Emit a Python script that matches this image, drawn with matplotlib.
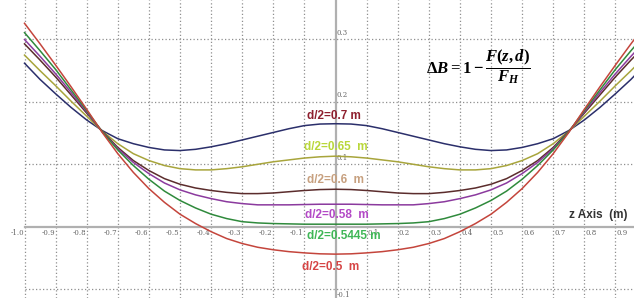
import matplotlib
matplotlib.use("Agg")
import matplotlib.pyplot as plt
import numpy as np

# ---- data ----
z = [-1.0, -0.95, -0.9, -0.85, -0.8, -0.75, -0.7, -0.65, -0.6, -0.55, -0.5,
     -0.45, -0.4, -0.35, -0.3, -0.25, -0.2, -0.15, -0.1, -0.05, 0.0,
     0.05, 0.1, 0.15, 0.2, 0.25, 0.3, 0.35, 0.4, 0.45, 0.5,
     0.55, 0.6, 0.65, 0.7, 0.75, 0.8, 0.85, 0.9, 0.95, 1.0]

d070 = [0.262, 0.236, 0.213, 0.191, 0.171, 0.154, 0.141, 0.133, 0.127, 0.123, 0.122,
        0.124, 0.128, 0.133, 0.139, 0.145, 0.151, 0.157, 0.162, 0.1645, 0.165,
        0.1645, 0.162, 0.157, 0.151, 0.145, 0.139, 0.133, 0.128, 0.124, 0.122,
        0.123, 0.127, 0.133, 0.141, 0.154, 0.171, 0.191, 0.213, 0.236, 0.262]

d065 = [0.275, 0.250, 0.226, 0.201, 0.177, 0.153, 0.133, 0.117, 0.106, 0.098, 0.093,
        0.091, 0.091, 0.093, 0.096, 0.100, 0.104, 0.107, 0.110, 0.112, 0.113,
        0.112, 0.110, 0.107, 0.104, 0.100, 0.096, 0.093, 0.091, 0.091, 0.093,
        0.098, 0.106, 0.117, 0.133, 0.153, 0.177, 0.201, 0.226, 0.250, 0.275]

d060 = [0.293, 0.267, 0.240, 0.211, 0.182, 0.153, 0.127, 0.106, 0.090, 0.077, 0.068,
        0.062, 0.058, 0.055, 0.053, 0.053, 0.054, 0.056, 0.058, 0.0595, 0.060,
        0.0595, 0.058, 0.056, 0.054, 0.053, 0.053, 0.055, 0.058, 0.062, 0.068,
        0.077, 0.090, 0.106, 0.127, 0.153, 0.182, 0.211, 0.240, 0.267, 0.293]

d058 = [0.300, 0.273, 0.245, 0.215, 0.184, 0.152, 0.125, 0.103, 0.085, 0.070, 0.059,
        0.051, 0.045, 0.040, 0.037, 0.035, 0.035, 0.035, 0.0355, 0.036, 0.036,
        0.036, 0.0355, 0.035, 0.035, 0.035, 0.037, 0.040, 0.045, 0.051, 0.059,
        0.070, 0.085, 0.103, 0.125, 0.152, 0.184, 0.215, 0.245, 0.273, 0.300]

d05445 = [0.311, 0.282, 0.252, 0.219, 0.186, 0.152, 0.123, 0.098, 0.076, 0.057, 0.042,
          0.030, 0.020, 0.013, 0.008, 0.006, 0.005, 0.0045, 0.004, 0.004, 0.004,
          0.004, 0.004, 0.0045, 0.005, 0.006, 0.008, 0.013, 0.020, 0.030, 0.042,
          0.057, 0.076, 0.098, 0.123, 0.152, 0.186, 0.219, 0.252, 0.282, 0.311]

d050 = [0.326, 0.293, 0.259, 0.224, 0.188, 0.151, 0.117, 0.087, 0.061, 0.039, 0.020,
        0.005, -0.008, -0.019, -0.027, -0.033, -0.037, -0.040, -0.042, -0.0435, -0.044,
        -0.0435, -0.042, -0.040, -0.037, -0.033, -0.027, -0.019, -0.008, 0.005, 0.020,
        0.039, 0.061, 0.087, 0.117, 0.151, 0.188, 0.224, 0.259, 0.293, 0.326]

series = [d070, d065, d060, d058, d05445, d050]
line_colors = ["#2b2f6b", "#a8a53c", "#5b2c2c", "#8b3a9e", "#2f8a3c", "#c4453c"]
labels = ["d/2=0.7 m", "d/2=0.65  m", "d/2=0.6  m", "d/2=0.58  m", "d/2=0.5445 m", "d/2=0.5  m"]
label_colors = ["#8e1f2e", "#b9d73a", "#c7a07f", "#b349c6", "#3fb656", "#d64545"]
label_pos = [(-0.005, 0.178), (0.0, 0.128), (0.0, 0.075), (0.003, 0.019), (0.027, -0.015), (-0.015, -0.065)]

xticks = [-1.0, -0.9, -0.8, -0.7, -0.6, -0.5, -0.4, -0.3, -0.2, -0.1,
          0.1, 0.2, 0.3, 0.4, 0.5, 0.6, 0.7, 0.8, 0.9]
yticks = [-0.1, 0.1, 0.2, 0.3]

plt.rcParams["mathtext.fontset"] = "custom"
plt.rcParams["mathtext.it"] = "Liberation Serif:italic:bold"
plt.rcParams["mathtext.rm"] = "Liberation Serif:bold"
plt.rcParams["mathtext.bf"] = "Liberation Serif:bold"

# ---- figure ----
fig = plt.figure(figsize=(6.34, 2.98), dpi=100)
ax = fig.add_axes([0, 0, 1, 1])
ax.set_xlim(-1.0788, 0.9598)
ax.set_ylim(-0.1143, 0.3633)
ax.axis("off")

grid_kw = dict(color="#8f8f8f", lw=0.9, ls=(0, (1, 1.8)), zorder=1)
for xv in xticks:
    ax.axvline(xv, **grid_kw)
for yv in yticks:
    ax.plot([-1.0, 0.96], [yv, yv], **grid_kw)

# axes lines
ax.plot([-1.0, 0.96], [0, 0], color="#b0b0b0", lw=1.6, zorder=2)
ax.axvline(0, color="#b0b0b0", lw=1.6, zorder=2)

# tick labels
for xv in xticks:
    if xv < 0:
        ax.text(xv - 0.002, -0.004, f"{xv:.1f}", ha="right", va="top",
                fontsize=5, color="#666666", zorder=3, family="DejaVu Serif")
    else:
        ax.text(xv + 0.004, -0.004, f"{xv:.1f}", ha="left", va="top",
                fontsize=5, color="#666666", zorder=3, family="DejaVu Serif")
for yv in yticks:
    if yv > 0:
        ax.text(0.004, yv + 0.004, f"{yv:.1f}", ha="left", va="bottom",
                fontsize=5, color="#666666", zorder=3, family="DejaVu Serif")
    else:
        ax.text(0.004, yv - 0.0095, f"{yv:.1f}", ha="left", va="center",
                fontsize=5, color="#666666", zorder=3, family="DejaVu Serif")

# curves
for vals, c in zip(series, line_colors):
    ax.plot(z, vals, color=c, lw=1.1, zorder=4, solid_joinstyle="round")

# curve labels
for txt, c, (px, py) in zip(labels, label_colors, label_pos):
    ax.text(px, py, txt, color=c, fontsize=8.5, fontweight="bold",
            family="Liberation Sans", ha="center", va="center", zorder=6)

# formula
ax.text(0.458, 0.257, r"$\Delta B = 1 - \dfrac{F(z,d)}{F_H}$", fontsize=12,
        color="black", ha="center", va="center", zorder=6)

# axis title
ax.text(0.844, 0.019, "z Axis  (m)", color="#333333", fontsize=8.5, fontweight="bold",
        family="Liberation Sans", ha="center", va="center", zorder=6)

fig.savefig("out.png", dpi=100)
